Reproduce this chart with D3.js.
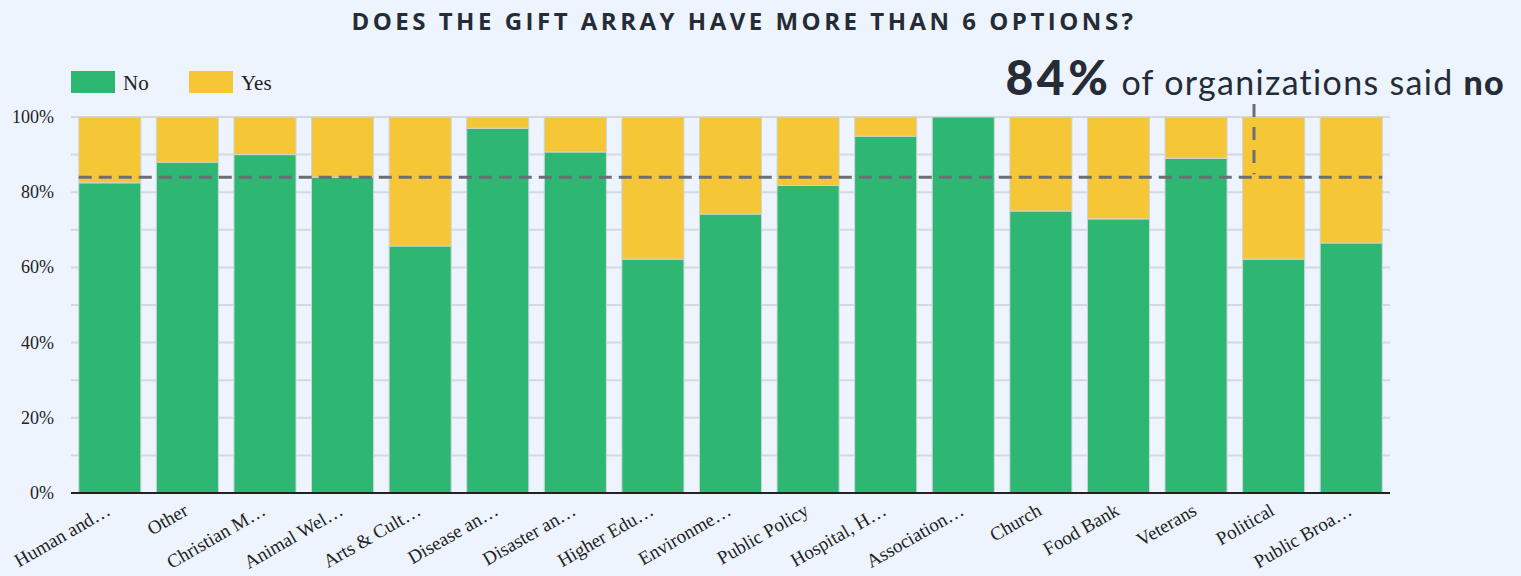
<!DOCTYPE html>
<html>
<head>
<meta charset="utf-8">
<script src="https://cdn.jsdelivr.net/npm/d3@7"></script>
<style>
  html, body { margin: 0; padding: 0; background: #EDF4FE; }
  svg { display: block; }
</style>
</head>
<body>
<svg id="chart" width="1521" height="576"></svg>
<script>
const categories = ["Human and…", "Other", "Christian M…", "Animal Wel…", "Arts & Cult…", "Disease an…", "Disaster an…", "Higher Edu…", "Environme…", "Public Policy", "Hospital, H…", "Association…", "Church", "Food Bank", "Veterans", "Political", "Public Broa…"];
const noValues = [82.5, 88, 90, 84, 65.7, 97, 90.7, 62.2, 74.2, 81.8, 94.9, 100, 75, 72.9, 89, 62.2, 66.5];
const seriesNames = ["No", "Yes"];
const yTicks = [0, 20, 40, 60, 80, 100];
const gridTicks = [0, 10, 20, 30, 40, 50, 60, 70, 80, 90, 100];
const averageNo = 84;
const titleText = "DOES THE GIFT ARRAY HAVE MORE THAN 6 OPTIONS?";

const colors = { No: "#2EB773", Yes: "#F5C636" };
const svg = d3.select("#chart");
const margin = { left: 71, right: 131, top: 117, bottom: 83 };
const W = 1521, H = 576;

const x = d3.scaleBand().domain(categories).range([margin.left, W - margin.right]).paddingInner(0.2).paddingOuter(0.1);
const y = d3.scaleLinear().domain([0, 100]).range([H - margin.bottom, margin.top]);

const data = categories.map((c, i) => ({ cat: c, No: noValues[i], Yes: 100 - noValues[i] }));
const stacked = d3.stack().keys(seriesNames)(data);

// title
svg.append("text").attr("x", 744).attr("y", 30).attr("text-anchor", "middle")
  .attr("font-family", "'Open Sans', sans-serif").attr("font-weight", 700).attr("font-size", 24)
  .attr("letter-spacing", 3.5).attr("fill", "#262C36").text(titleText);

// gridlines
svg.append("g").selectAll("line").data(gridTicks).join("line")
  .attr("x1", margin.left).attr("x2", W - margin.right)
  .attr("y1", d => y(d)).attr("y2", d => y(d))
  .attr("stroke", "#D5D9DF").attr("stroke-width", 2);

// y axis labels
svg.append("g").selectAll("text").data(yTicks).join("text")
  .attr("x", 54).attr("y", d => y(d) + 6).attr("text-anchor", "end")
  .attr("font-family", "'Liberation Serif', serif").attr("font-size", 18).attr("fill", "#222")
  .text(d => d + "%");

// bars
svg.append("g").selectAll("g").data(stacked).join("g")
  .attr("fill", d => colors[d.key])
  .selectAll("rect").data(d => d).join("rect")
  .attr("x", d => x(d.data.cat)).attr("width", x.bandwidth())
  .attr("y", d => y(d[1])).attr("height", d => Math.max(0, y(d[0]) - y(d[1])))
  .attr("stroke", "#D0D4D8").attr("stroke-width", 1);

// baseline
svg.append("line").attr("x1", margin.left).attr("x2", W - margin.right)
  .attr("y1", y(0)).attr("y2", y(0)).attr("stroke", "#222").attr("stroke-width", 2);

// x labels
svg.append("g").selectAll("text").data(categories).join("text")
  .attr("text-anchor", "end")
  .attr("transform", d => `translate(${x(d) + x.bandwidth() / 2 + 2},${y(0) + 21}) rotate(-30)`)
  .attr("font-family", "'Liberation Serif', serif").attr("font-size", 19).attr("fill", "#222")
  .text(d => d);

// average dashed line
svg.append("line").attr("x1", x(categories[0])).attr("x2", x(categories[categories.length - 1]) + x.bandwidth())
  .attr("y1", y(averageNo)).attr("y2", y(averageNo))
  .attr("stroke", "#6B6E73").attr("stroke-width", 3).attr("stroke-dasharray", "13,7");

// vertical annotation connector
const annX = 1254;
svg.append("line").attr("x1", annX).attr("x2", annX).attr("y1", 104).attr("y2", y(averageNo) - 3)
  .attr("stroke", "#6B6E73").attr("stroke-width", 3).attr("stroke-dasharray", "13,10");

// legend
const legend = svg.append("g");
seriesNames.forEach((s, i) => {
  const lx = 71 + i * 118;
  legend.append("rect").attr("x", lx).attr("y", 71).attr("width", 44).attr("height", 22).attr("fill", colors[s]);
  legend.append("text").attr("x", lx + 52).attr("y", 90)
    .attr("font-family", "'Liberation Serif', serif").attr("font-size", 21).attr("fill", "#222").text(s);
});

// annotation text
const ann = svg.append("text").attr("x", 1505).attr("y", 95).attr("text-anchor", "end")
  .attr("font-family", "Lato, sans-serif").attr("fill", "#262C36");
ann.append("tspan").attr("font-weight", 900).attr("font-size", 48).attr("letter-spacing", 3.5).text(averageNo + "%");
ann.append("tspan").attr("font-weight", 400).attr("font-size", 34).attr("letter-spacing", 1.3).text(" of organizations said ");
ann.append("tspan").attr("font-weight", 900).attr("font-size", 34).attr("letter-spacing", 1.3).text("no");
</script>
</body>
</html>
